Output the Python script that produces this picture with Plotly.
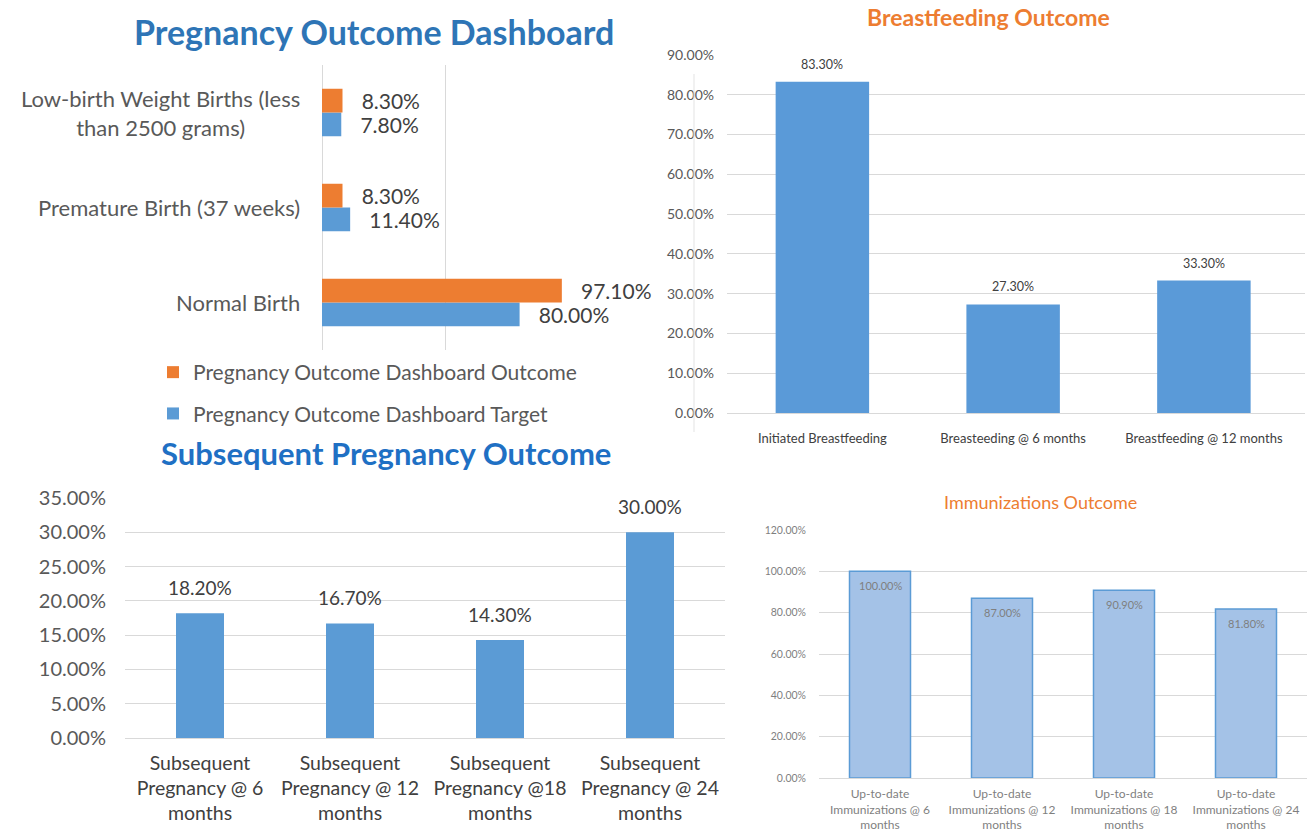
import plotly.graph_objects as go

W, H = 1307, 832
FONT = "Lato"

# ---------------- data ----------------
po_categories = ["Low-birth Weight Births (less than 2500 grams)",
                 "Premature Birth (37 weeks)", "Normal Birth"]
po_ticklabels = ["Low-birth Weight Births (less<br>than 2500 grams)",
                 "Premature Birth (37 weeks)", "Normal Birth"]
po_outcome = [0.083, 0.083, 0.971]
po_target = [0.078, 0.114, 0.800]
po_series = ["Pregnancy Outcome Dashboard Outcome", "Pregnancy Outcome Dashboard Target"]

bf_categories = ["Initiated Breastfeeding", "Breasteeding @ 6 months", "Breastfeeding @ 12 months"]
bf_values = [0.833, 0.273, 0.333]

sp_categories = ["Subsequent<br>Pregnancy @ 6<br>months", "Subsequent<br>Pregnancy @ 12<br>months",
                 "Subsequent<br>Pregnancy @18<br>months", "Subsequent<br>Pregnancy @ 24<br>months"]
sp_values = [0.182, 0.167, 0.143, 0.300]

im_categories = ["Up-to-date<br>Immunizations @ 6<br>months", "Up-to-date<br>Immunizations @ 12<br>months",
                 "Up-to-date<br>Immunizations @ 18<br>months", "Up-to-date<br>Immunizations @ 24<br>months"]
im_values = [1.000, 0.870, 0.909, 0.818]

ORANGE = "#ED7D31"
BLUE = "#5B9BD5"
GRID = "#D9D9D9"


def px(x):
    return x / W


def py(y):
    return 1 - y / H


fig = go.Figure()

# ---------- top-left: horizontal grouped bars ----------
nb = "\u00a0\u00a0\u00a0"
fig.add_trace(go.Bar(
    y=po_categories, x=po_target, orientation="h", name=po_series[1],
    marker=dict(color=BLUE, line=dict(width=0)), width=0.25, offset=0.0,
    text=[nb + f"{v:.2%}" for v in po_target], textposition="outside",
    textfont=dict(size=21, color="#404040", family=FONT), constraintext="none",
    cliponaxis=False, xaxis="x", yaxis="y", legendgroup="t", legendrank=2,
    hoverinfo="skip"))
fig.add_trace(go.Bar(
    y=po_categories, x=po_outcome, orientation="h", name=po_series[0],
    marker=dict(color=ORANGE, line=dict(width=0)), width=0.25, offset=-0.25,
    text=[nb + f"{v:.2%}" for v in po_outcome], textposition="outside",
    textfont=dict(size=21, color="#404040", family=FONT), constraintext="none",
    cliponaxis=False, xaxis="x", yaxis="y", legendgroup="o", legendrank=1,
    hoverinfo="skip"))

# ---------- top-right: breastfeeding ----------
fig.add_trace(go.Bar(
    x=bf_categories, y=bf_values, marker=dict(color="#5A9AD8", line=dict(width=0)), width=0.49,
    xaxis="x2", yaxis="y2", showlegend=False, hoverinfo="skip"))

# ---------- bottom-left: subsequent pregnancy ----------
fig.add_trace(go.Bar(
    x=sp_categories, y=sp_values, marker=dict(color=BLUE, line=dict(width=0)), width=0.32,
    xaxis="x3", yaxis="y3", showlegend=False, hoverinfo="skip"))

# ---------- bottom-right: immunizations ----------
fig.add_trace(go.Bar(
    x=im_categories, y=im_values, marker=dict(color="#A4C2E7", line=dict(color=BLUE, width=1.5)),
    width=0.5, xaxis="x4", yaxis="y4", showlegend=False, hoverinfo="skip"))

annotations = []
# category labels for top-left (centered multi-line)
for cat, lab in zip(po_categories, po_ticklabels):
    annotations.append(dict(xref="paper", yref="y", x=px(302), y=cat, text=lab, showarrow=False,
                            xanchor="right", yanchor="middle", align="center",
                            font=dict(size=22, color="#595959", family=FONT)))
# data labels top-right
for cat, v in zip(bf_categories, bf_values):
    annotations.append(dict(xref="x2", yref="y2", x=cat, y=v, text=f"{v:.2%}", showarrow=False,
                            yanchor="bottom", yshift=8, font=dict(size=12.5, color="#404040", family=FONT)))
# data labels bottom-left
for cat, v in zip(sp_categories, sp_values):
    annotations.append(dict(xref="x3", yref="y3", x=cat, y=v, text=f"{v:.2%}", showarrow=False,
                            yanchor="bottom", yshift=12, font=dict(size=19, color="#404040", family=FONT)))
# data labels bottom-right (inside, near top)
for cat, v in zip(im_categories, im_values):
    annotations.append(dict(xref="x4", yref="y4", x=cat, y=v, text=f"{v:.2%}", showarrow=False,
                            yanchor="top", yshift=-6, font=dict(size=11, color="#7F7F7F", family=FONT)))

# titles
annotations += [
    dict(xref="paper", yref="paper", x=px(374), y=py(31), text="<b>Pregnancy Outcome Dashboard</b>",
         showarrow=False, xanchor="center", yanchor="middle",
         font=dict(size=34, color="#2E75B6", family=FONT)),
    dict(xref="paper", yref="paper", x=px(988), y=py(17), text="<b>Breastfeeding Outcome</b>",
         showarrow=False, xanchor="center", yanchor="middle",
         font=dict(size=23, color=ORANGE, family=FONT)),
    dict(xref="paper", yref="paper", x=px(386), y=py(453), text="<b>Subsequent Pregnancy Outcome</b>",
         showarrow=False, xanchor="center", yanchor="middle",
         font=dict(size=31, color="#1F70C4", family=FONT)),
    dict(xref="paper", yref="paper", x=px(1040), y=py(502), text="Immunizations Outcome",
         showarrow=False, xanchor="center", yanchor="middle",
         font=dict(size=18, color=ORANGE, family=FONT)),
]

common = dict(automargin=False, ticks="", showline=False, fixedrange=True)

fig.update_layout(
    template="none",
    width=W, height=H, margin=dict(l=0, r=0, t=0, b=0, pad=0, autoexpand=False),
    paper_bgcolor="white", plot_bgcolor="white",
    font=dict(family=FONT, color="#595959"),
    barmode="overlay",
    annotations=annotations,
    shapes=[dict(type="line", xref="paper", yref="paper", x0=px(694), x1=px(694), y0=py(74), y1=py(432),
                 line=dict(color="#E3E3E3", width=1))],
    legend=dict(x=px(153), y=py(352), xanchor="left", yanchor="top", bgcolor="rgba(0,0,0,0)",
                font=dict(size=21, color="#595959", family=FONT), tracegroupgap=11,
                traceorder="grouped"),
    xaxis=dict(domain=[px(322), px(569)], range=[0, 1.0], dtick=0.5, showgrid=True, gridcolor=GRID,
               zeroline=True, zerolinecolor=GRID, zerolinewidth=1, showticklabels=False,
               anchor="y", **common),
    yaxis=dict(domain=[py(350), py(65)], type="category", autorange="reversed", showgrid=False,
               showticklabels=False, anchor="x", zeroline=False, **common),
    xaxis2=dict(domain=[px(727), px(1305)], range=[-0.5, 2.53], anchor="y2", showgrid=False,
                tickfont=dict(size=13, color="#404040", family=FONT), ticklabelstandoff=16, **common),
    yaxis2=dict(domain=[py(413), py(55)], range=[0, 0.9], dtick=0.1, tickformat=".2%", anchor="x2",
                showgrid=True, gridcolor=GRID, zeroline=True, zerolinecolor=GRID,
                tickfont=dict(size=14, color="#595959", family=FONT), ticklabelstandoff=12, **common),
    xaxis3=dict(domain=[px(125), px(725)], anchor="y3", showgrid=False,
                tickfont=dict(size=19.5, color="#404040", family=FONT), ticklabelstandoff=11, **common),
    yaxis3=dict(domain=[py(738), py(498)], range=[0, 0.35], dtick=0.05, tickformat=".2%", anchor="x3",
                showgrid=True, gridcolor=GRID, zeroline=True, zerolinecolor=GRID,
                tickfont=dict(size=20, color="#595959", family=FONT), ticklabelstandoff=18, **common),
    xaxis4=dict(domain=[px(819), 1.0], anchor="y4", showgrid=False,
                tickfont=dict(size=12, color="#7F7F7F", family=FONT), ticklabelstandoff=7, **common),
    yaxis4=dict(domain=[py(778), py(530)], range=[0, 1.2], dtick=0.2, tickformat=".2%", anchor="x4",
                showgrid=True, gridcolor=GRID, zeroline=True, zerolinecolor=GRID,
                tickfont=dict(size=10.5, color="#7F7F7F", family=FONT), ticklabelstandoff=12, **common),
)

fig.write_html("out.html", config={"displayModeBar": False},
               post_script="document.body.style.margin='0';document.body.style.overflow='hidden';")
